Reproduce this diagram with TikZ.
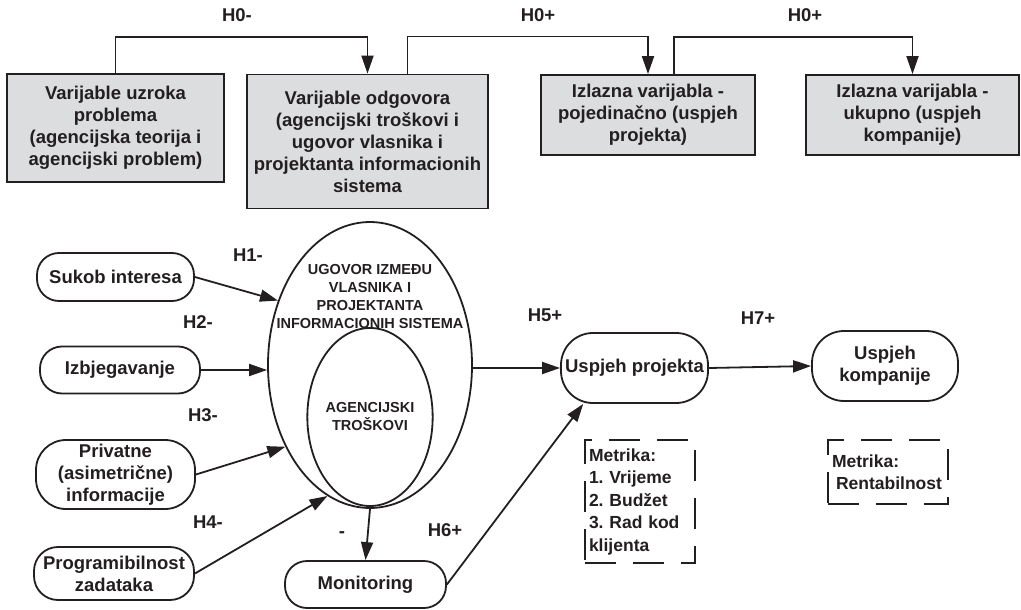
\documentclass[tikz,border=0pt]{standalone}
\usepackage{fontspec}
\setmainfont{Liberation Sans}
\usetikzlibrary{shapes,arrows.meta}
\definecolor{boxgray}{RGB}{220,221,223}
\definecolor{ink}{RGB}{35,31,32}
\tikzset{
  every node/.style={font=\bfseries\frenchspacing\fontsize{18.5}{22}\selectfont, text=ink},
  var/.style={draw=ink, fill=boxgray, line width=1.8pt, align=center, inner sep=0pt},
  oval/.style={draw=ink, line width=1.8pt, rounded corners=22pt, align=center, inner sep=0pt},
  ell/.style={draw=ink, line width=1.8pt, ellipse, inner sep=0pt, align=center,
    font=\bfseries\fontsize{14.5}{18}\selectfont},
  metric/.style={draw=ink, line width=1.8pt, dash pattern=on 31pt off 17pt, align=left,
    inner sep=4pt, font=\bfseries\frenchspacing\fontsize{17.5}{22.5}\selectfont},
  arr/.style={draw=ink, line width=1.8pt, -{Triangle[length=18pt,width=12pt]}}
}

\begin{document}
\begin{tikzpicture}[x=1pt,y=-1pt]
  \useasboundingbox (0,0) rectangle (1021,610);

  \node[var, minimum width=217pt, minimum height=108pt](Uzrok) at (115.5,128)
    {Varijable uzroka\\problema\\(agencijska teorija i\\agencijski problem)};
  \node[var, minimum width=241pt, minimum height=134pt](Odgovor) at (367.5,141.5)
    {Varijable odgovora\\(agencijski troškovi i\\ugovor vlasnika i\\projektanta informacionih\\sistema};
  \node[var, minimum width=214pt, minimum height=80pt](IzlazP) at (648,115)
    {Izlazna varijabla -\\pojedinačno (uspjeh\\projekta)};
  \node[var, minimum width=213pt, minimum height=80pt](IzlazU) at (912.5,115)
    {Izlazna varijabla -\\ukupno (uspjeh\\kompanije)};

  \node(H0a) at (237,15) {H0-};
  \node(H0b) at (538,15) {H0+};
  \node(H0c) at (805,15) {H0+};

  \node[ell, minimum width=204pt, minimum height=286pt](Ugovor) at (370,365) {};
  \node[align=center, font=\bfseries\fontsize{14.5}{18}\selectfont](UgovorTxt) at (370,297)
    {UGOVOR IZMEĐU\\VLASNIKA I\\PROJEKTANTA\\INFORMACIONIH SISTEMA};
  \node[ell, minimum width=125pt, minimum height=178pt](Troskovi) at (370,417)
    {AGENCIJSKI\\TROŠKOVI};

  \node[oval, minimum width=157pt, minimum height=48pt](Sukob) at (115.5,277) {Sukob interesa};
  \node[oval, minimum width=160pt, minimum height=47pt](Izbj) at (120,370) {Izbjegavanje};
  \node[oval, rounded corners=30pt, minimum width=159pt, minimum height=69pt](Privatne) at (115.5,474.5)
    {Privatne\\(asimetrične)\\informacije};
  \node[oval, rounded corners=24pt, minimum width=160pt, minimum height=53pt](Program) at (114,573.5)
    {Programibilnost\\zadataka};
  \node[oval, minimum width=161pt, minimum height=47pt](Monitoring) at (365.5,584.5) {Monitoring};
  \node[oval, rounded corners=32pt, minimum width=147pt, minimum height=70pt](UspjehP) at (634.5,368)
    {Uspjeh projekta};
  \node[oval, rounded corners=32pt, minimum width=146pt, minimum height=70pt](UspjehK) at (885,366)
    {Uspjeh\\kompanije};

  \node[metric, text width=102pt, minimum height=123pt](MetrikaP) at (640,501.5)
    {Metrika:\\1. Vrijeme\\2. Budžet\\3. Rad kod\\klijenta};
  \node[metric, text width=112pt, minimum height=64pt](MetrikaK) at (888,472)
    {Metrika:\\\hspace*{4pt}Rentabilnost};

  \node(H1) at (248,255) {H1-};
  \node(H2) at (198,322) {H2-};
  \node(H3) at (203,415) {H3-};
  \node(H4) at (208,522) {H4-};
  \node(Hm) at (342,535) {-};
  \node(H6) at (445,530) {H6+};
  \node(H5) at (545,315) {H5+};
  \node(H7) at (758,318) {H7+};

  \draw[arr] (Uzrok.north) -- ++(0,-36) -| (Odgovor.north);
  \draw[arr] ([xshift=40pt]Odgovor.north) -- ++(0,-37) -| (IzlazP.north);
  \draw[arr] ([xshift=26pt]IzlazP.north) -- ++(0,-37) -| (IzlazU.north);

  \draw[arr] (Sukob.east) -- (Ugovor.145);
  \draw[arr] (Izbj.east) -- (Izbj.east -| Ugovor.west);
  \draw[arr] (Privatne.east) -- (Ugovor.224);
  \draw[arr] (Program.east) -- (Ugovor.252);
  \draw[arr] (Ugovor.south) -- (Monitoring.north);
  \draw[arr] (UspjehP.west -| Ugovor.east) -- (UspjehP.west);
  \draw[arr] (Monitoring.east) -- (UspjehP.215);
  \draw[arr] (UspjehP.east) -- (UspjehK.west);
\end{tikzpicture}
\end{document}
